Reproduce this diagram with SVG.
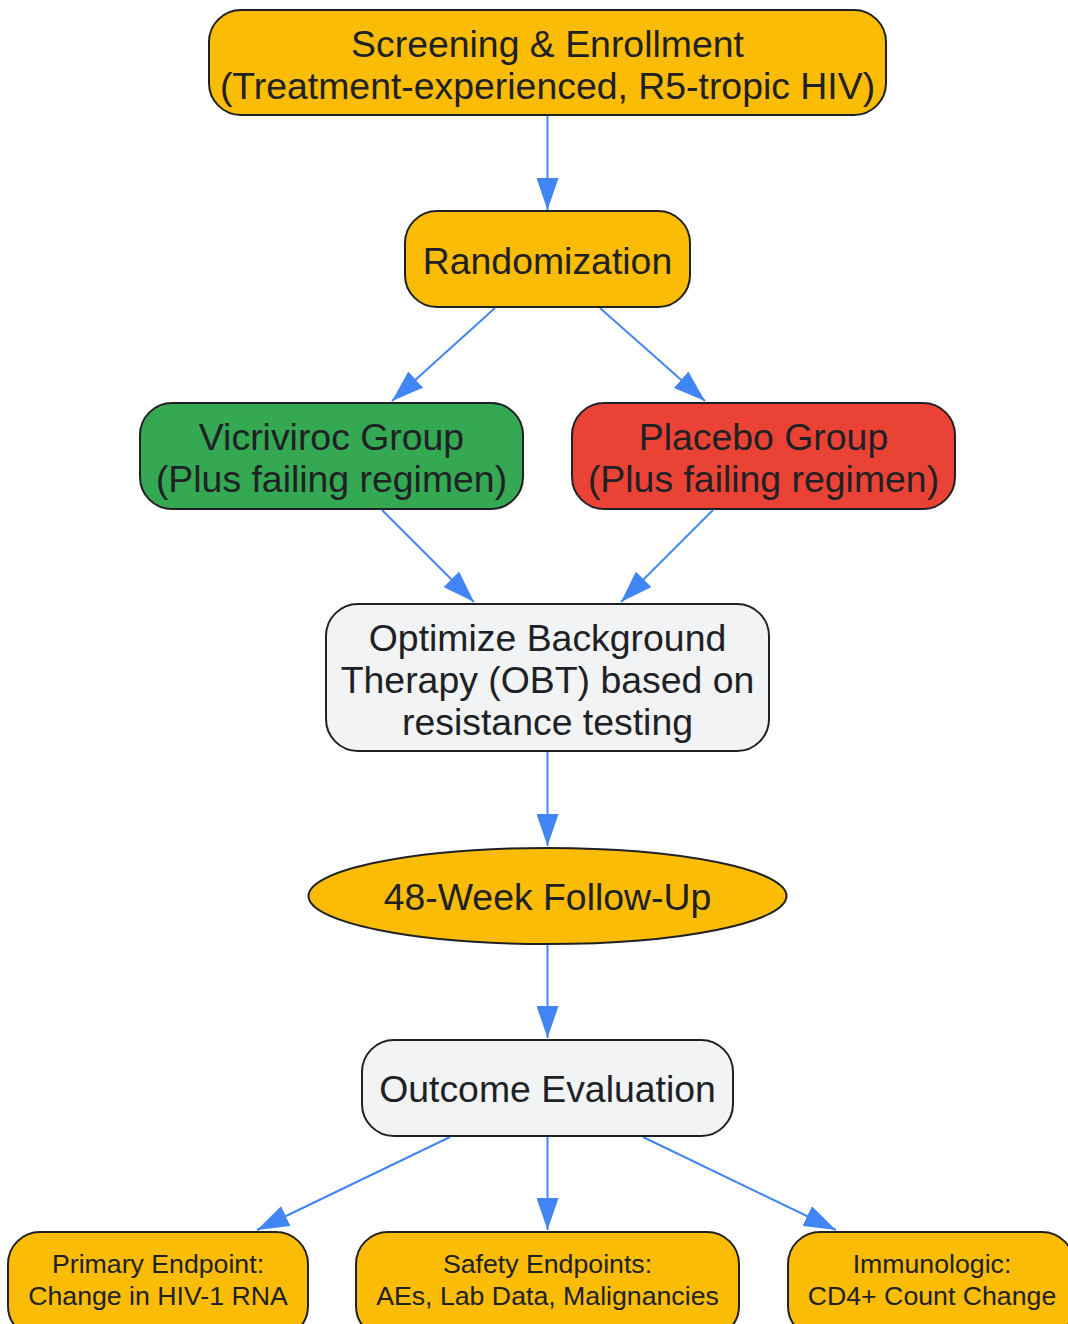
<svg xmlns="http://www.w3.org/2000/svg" width="1068" height="1324" viewBox="0 0 1068 1324">
<style>
.n{stroke:#202124;stroke-width:2}
.y{fill:#FBBC05}.g{fill:#34A853}.r{fill:#EA4335}.w{fill:#F1F3F4}
text{font-family:"Liberation Sans",Arial,sans-serif;fill:#202124;text-anchor:middle}
.t{font-size:37.4px}.s{font-size:26.7px}
.e{stroke:#4285F4;stroke-width:2;fill:none}
</style>
<defs>
<marker id="a" markerUnits="userSpaceOnUse" markerWidth="32" markerHeight="22" refX="32" refY="11" orient="auto">
<path d="M0,0 L32,11 L0,22 z" fill="#4285F4"/>
</marker>
</defs>
<rect width="1068" height="1324" fill="#fff"/>
<g id="edges">
<line class="e" x1="547.5" y1="115" x2="547.5" y2="210" marker-end="url(#a)"/>
<line class="e" x1="495" y1="308" x2="392" y2="401" marker-end="url(#a)"/>
<line class="e" x1="600" y1="308" x2="705" y2="401" marker-end="url(#a)"/>
<line class="e" x1="382" y1="510" x2="474" y2="602" marker-end="url(#a)"/>
<line class="e" x1="713" y1="510" x2="621" y2="602" marker-end="url(#a)"/>
<line class="e" x1="547.5" y1="752" x2="547.5" y2="846" marker-end="url(#a)"/>
<line class="e" x1="547.5" y1="944" x2="547.5" y2="1038" marker-end="url(#a)"/>
<line class="e" x1="450" y1="1137" x2="257" y2="1230" marker-end="url(#a)"/>
<line class="e" x1="547.5" y1="1137" x2="547.5" y2="1230" marker-end="url(#a)"/>
<line class="e" x1="643" y1="1137" x2="836" y2="1230" marker-end="url(#a)"/>
</g>
<g id="screening">
<rect class="n y" x="209" y="10" width="677" height="105" rx="32"/>
<text class="t" x="547.5" y="57">Screening &amp; Enrollment</text>
<text class="t" x="547.5" y="99">(Treatment-experienced, R5-tropic HIV)</text>
</g>
<g id="randomization">
<rect class="n y" x="405" y="211" width="285" height="96" rx="32"/>
<text class="t" x="547.5" y="274">Randomization</text>
</g>
<g id="vicriviroc">
<rect class="n g" x="140" y="403" width="383" height="106" rx="32"/>
<text class="t" x="331.5" y="450">Vicriviroc Group</text>
<text class="t" x="331.5" y="492">(Plus failing regimen)</text>
</g>
<g id="placebo">
<rect class="n r" x="572" y="403" width="383" height="106" rx="32"/>
<text class="t" x="763.5" y="450">Placebo Group</text>
<text class="t" x="763.5" y="492">(Plus failing regimen)</text>
</g>
<g id="obt">
<rect class="n w" x="326" y="604" width="443" height="147" rx="32"/>
<text class="t" x="547.5" y="651">Optimize Background</text>
<text class="t" x="547.5" y="693">Therapy (OBT) based on</text>
<text class="t" x="547.5" y="735">resistance testing</text>
</g>
<g id="followup">
<ellipse class="n y" cx="547.5" cy="896" rx="239" ry="48"/>
<text class="t" x="547.5" y="910">48-Week Follow-Up</text>
</g>
<g id="outcome">
<rect class="n w" x="362" y="1040" width="371" height="96" rx="32"/>
<text class="t" x="547.5" y="1102">Outcome Evaluation</text>
</g>
<g id="primary">
<rect class="n y" x="8" y="1232" width="300" height="106" rx="32"/>
<text class="s" x="158" y="1273">Primary Endpoint:</text>
<text class="s" x="158" y="1305">Change in HIV-1 RNA</text>
</g>
<g id="safety">
<rect class="n y" x="356" y="1232" width="383" height="106" rx="32"/>
<text class="s" x="547.5" y="1273">Safety Endpoints:</text>
<text class="s" x="547.5" y="1305">AEs, Lab Data, Malignancies</text>
</g>
<g id="immunologic">
<rect class="n y" x="788" y="1232" width="286" height="106" rx="32"/>
<text class="s" x="932" y="1273">Immunologic:</text>
<text class="s" x="932" y="1305">CD4+ Count Change</text>
</g>
</svg>
